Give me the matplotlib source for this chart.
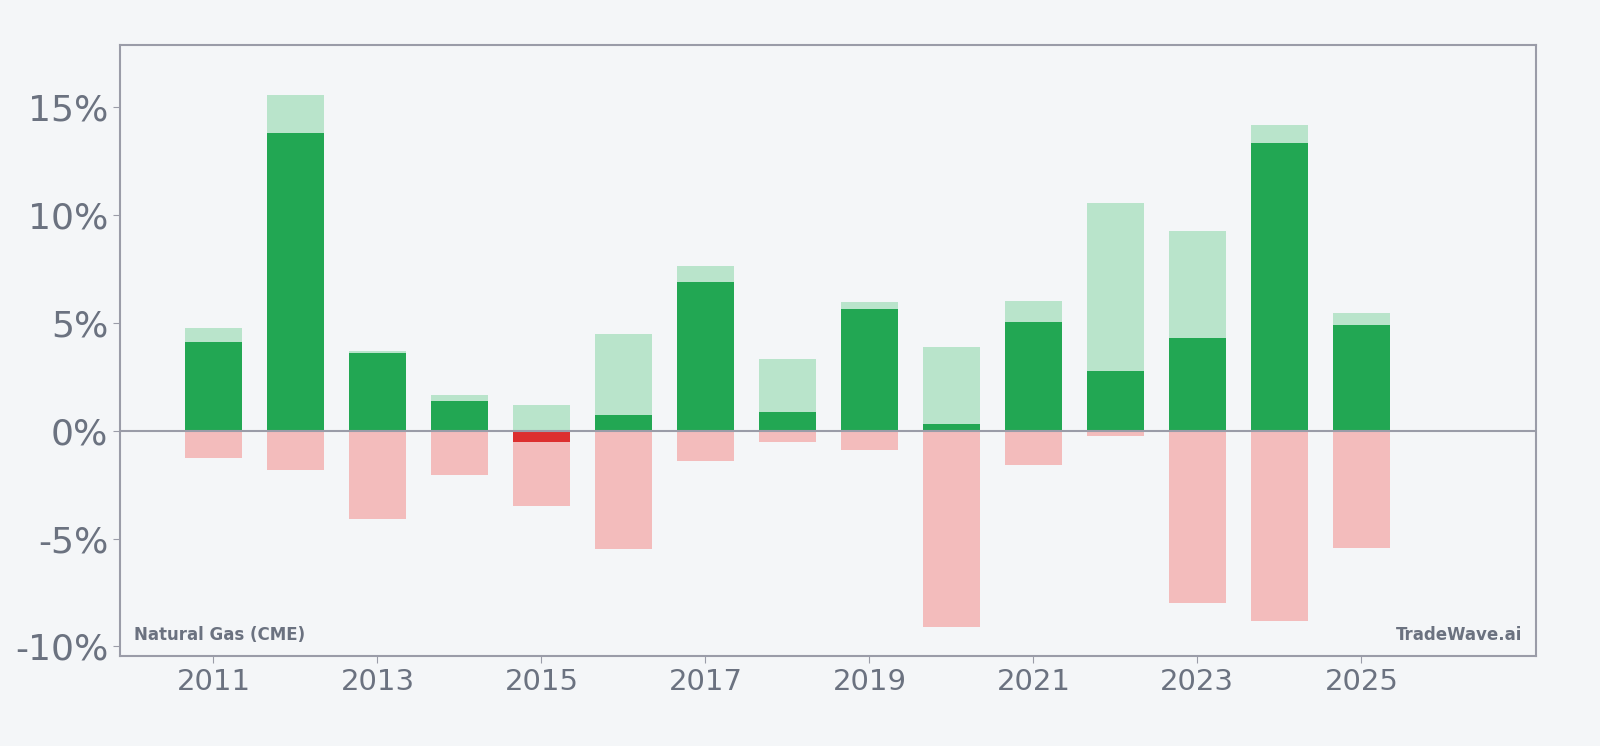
import matplotlib.pyplot as plt
from matplotlib.ticker import FuncFormatter

# yearly returns (%) for Natural Gas (CME)
years = list(range(2011, 2026))
max_up = [4.78, 15.59, 3.70, 1.67, 1.21, 4.48, 7.62, 3.33, 5.95, 3.90, 6.03, 10.58, 9.28, 14.20, 5.48]
close = [4.13, 13.83, 3.62, 1.38, -0.53, 0.74, 6.90, 0.88, 5.67, 0.33, 5.06, 2.78, 4.32, 13.35, 4.92]
max_down = [-1.28, -1.84, -4.11, -2.07, -3.47, -5.50, -1.42, -0.50, -0.88, -9.12, -1.57, -0.22, -8.00, -8.84, -5.43]

bg = "#f4f6f8"
txt = "#6b7280"
edge = "#9a9ca8"

fig = plt.figure(figsize=(16, 7.46), dpi=100, facecolor=bg)
ax = fig.add_axes([0.075, 0.121, 0.885, 0.819], facecolor=bg)

w = 0.7
ax.bar(years, max_up, width=w, color="#b9e4cb", zorder=2)
ax.bar(years, max_down, width=w, color="#f3bcbc", zorder=2)
close_cols = ["#22a753" if c >= 0 else "#dc2f2f" for c in close]
ax.bar(years, close, width=w, color=close_cols, zorder=3)
ax.axhline(0, color=edge, lw=1.5, zorder=4)

ax.set_xlim(2009.86, 2027.13)
ax.set_ylim(-10.43, 17.9)
ax.set_xticks(range(2011, 2026, 2))
ax.set_yticks([-10, -5, 0, 5, 10, 15])
ax.yaxis.set_major_formatter(FuncFormatter(lambda v, p: f"{v:.0f}%"))
ax.tick_params(axis="y", labelsize=26, colors=edge, labelcolor=txt, length=5)
ax.tick_params(axis="x", labelsize=21, colors=edge, labelcolor=txt, length=5)
for s in ax.spines.values():
    s.set_color(edge)
    s.set_linewidth(1.5)

ax.text(0.01, 0.02, "Natural Gas (CME)", transform=ax.transAxes, fontsize=12,
        fontweight="bold", color=txt, ha="left", va="bottom")
ax.text(0.99, 0.02, "TradeWave.ai", transform=ax.transAxes, fontsize=12,
        fontweight="bold", color=txt, ha="right", va="bottom")

fig.savefig("out.png", dpi=100, facecolor=bg)
